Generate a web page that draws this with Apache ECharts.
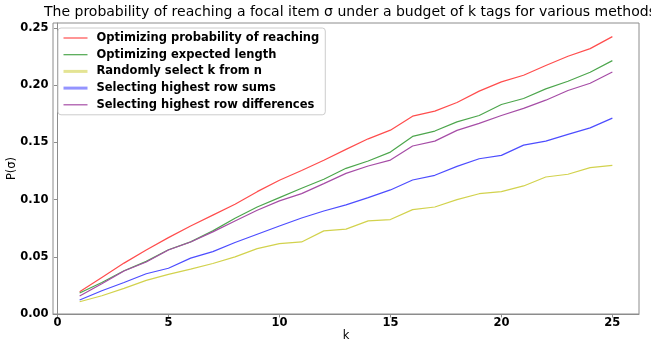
<!DOCTYPE html>
<html>
<head>
<meta charset="utf-8">
<script src="https://cdn.jsdelivr.net/npm/echarts@6/dist/echarts.min.js"></script>
<style>
html,body{margin:0;padding:0;background:#fff;}
#chart{width:651px;height:340px;}
</style>
</head>
<body>
<div id="chart"></div>
<script>
var titleText = "The probability of reaching a focal item σ under a budget of k tags for various methods";
var xName = "k";
var yName = "P(σ)";
var kValues = [1,2,3,4,5,6,7,8,9,10,11,12,13,14,15,16,17,18,19,20,21,22,23,24,25];
var xTicks = [0,5,10,15,20,25];
var seriesNames = [
  "Optimizing probability of reaching",
  "Optimizing expected length",
  "Randomly select k from n",
  "Selecting highest row sums",
  "Selecting highest row differences"
];
var probReaching = [0.0195,0.032,0.0445,0.056,0.0668,0.077,0.0865,0.096,0.107,0.117,0.1255,0.1344,0.144,0.1532,0.1608,0.173,0.1774,0.185,0.1949,0.203,0.2088,0.2173,0.2254,0.2321,0.2426];
var expectedLength = [0.0183,0.0276,0.0378,0.046,0.0562,0.0631,0.0727,0.0838,0.0936,0.1018,0.11,0.1178,0.1274,0.1338,0.1416,0.1553,0.16,0.168,0.1736,0.1832,0.1885,0.1969,0.2036,0.2114,0.2216];
var randomSelect = [0.0107,0.016,0.0224,0.0294,0.0347,0.0393,0.0442,0.05,0.0572,0.0616,0.063,0.0727,0.0742,0.0814,0.0826,0.0913,0.0936,0.1,0.1052,0.107,0.112,0.1198,0.1222,0.128,0.13];
var rowSums = [0.0122,0.0203,0.0276,0.0352,0.04,0.0489,0.0546,0.0625,0.0698,0.077,0.084,0.0901,0.0954,0.1018,0.1085,0.1172,0.1213,0.1291,0.1358,0.1387,0.1477,0.1512,0.1571,0.1628,0.1713];
var rowDiffs = [0.0157,0.0265,0.0376,0.0455,0.056,0.063,0.0718,0.0814,0.0907,0.0989,0.1053,0.114,0.123,0.1294,0.1346,0.1469,0.1512,0.1606,0.1667,0.1736,0.1798,0.187,0.1955,0.2018,0.2117];

var allValues = [probReaching, expectedLength, randomSelect, rowSums, rowDiffs];
var colors = ["#ff4d4d","#4da64d","#d2d24d","#4d4dff","#a64da6"];
var legendStyles = [
  {width:1.2, opacity:1},
  {width:1.2, opacity:1},
  {width:3, opacity:0.6},
  {width:3, opacity:0.6},
  {width:1.2, opacity:1}
];

var FONT = "DejaVu Sans";
var axisGray = "#8c8c8c";

var series = allValues.map(function(vals, i){
  return {
    name: seriesNames[i],
    type: 'line',
    symbol: 'none',
    showSymbol: false,
    data: kValues.map(function(k, j){ return [k, vals[j]]; }),
    lineStyle: {color: colors[i], width: 1.2},
    itemStyle: {color: colors[i]},
    z: 2 + i,
    animation: false
  };
});

var chart = echarts.init(document.getElementById('chart'), null, {renderer:'canvas'});
chart.setOption({
  animation: false,
  backgroundColor: '#fff',
  title: {
    text: titleText,
    left: 44,
    top: 5,
    padding: 0,
    textStyle: {fontFamily: FONT, fontSize: 14, fontWeight: 'normal', color: '#000'}
  },
  grid: {
    left: 53, right: 12, top: 23, bottom: 26,
    outerBoundsMode: 'none',
    containLabel: false,
    show: true, borderColor: axisGray, borderWidth: 1, backgroundColor: 'transparent'
  },
  legend: {
    orient: 'vertical',
    left: 58,
    top: 28,
    padding: [4, 6, 4, 4],
    backgroundColor: '#fff',
    borderColor: '#cccccc',
    borderWidth: 1,
    borderRadius: 3,
    itemWidth: 24,
    itemHeight: 12,
    itemGap: 4.7,
    textStyle: {fontFamily: FONT, fontSize: 11.5, fontWeight: 'bold', color: '#000', lineHeight: 12, padding: [0,0,0,4]},
    data: seriesNames.map(function(n, i){
      return {
        name: n,
        itemStyle: {opacity: 0},
        lineStyle: {width: legendStyles[i].width, opacity: legendStyles[i].opacity}
      };
    })
  },
  xAxis: {
    type: 'value',
    min: -0.2,
    max: 26.2,
    name: xName,
    nameLocation: 'middle',
    nameGap: 16,
    nameMoveOverlap: false,
    nameTextStyle: {fontFamily: FONT, fontSize: 11.5, color: '#000'},
    axisLine: {show: true, onZero: false, lineStyle: {color: axisGray}},
    axisTick: {show: true, inside: false, length: 3.5, customValues: xTicks, lineStyle: {color: axisGray}},
    axisLabel: {customValues: xTicks, margin: 3, fontFamily: FONT, fontSize: 11.5, fontWeight: 'bold', color: '#000'},
    splitLine: {show: false}
  },
  yAxis: {
    type: 'value',
    min: 0,
    max: 0.2545,
    interval: 0.05,
    name: yName,
    nameLocation: 'middle',
    nameGap: 35,
    nameMoveOverlap: false,
    nameRotate: 90,
    nameTextStyle: {fontFamily: FONT, fontSize: 11.5, color: '#000'},
    axisLine: {show: true, lineStyle: {color: axisGray}},
    axisTick: {show: true, inside: false, length: 3.5, lineStyle: {color: axisGray}},
    axisLabel: {
      margin: 4.5, fontFamily: FONT, fontSize: 11.5, fontWeight: 'bold', color: '#000',
      showMaxLabel: false,
      formatter: function(v){ return v.toFixed(2); }
    },
    splitLine: {show: false}
  },
  series: series
});
</script>
</body>
</html>
